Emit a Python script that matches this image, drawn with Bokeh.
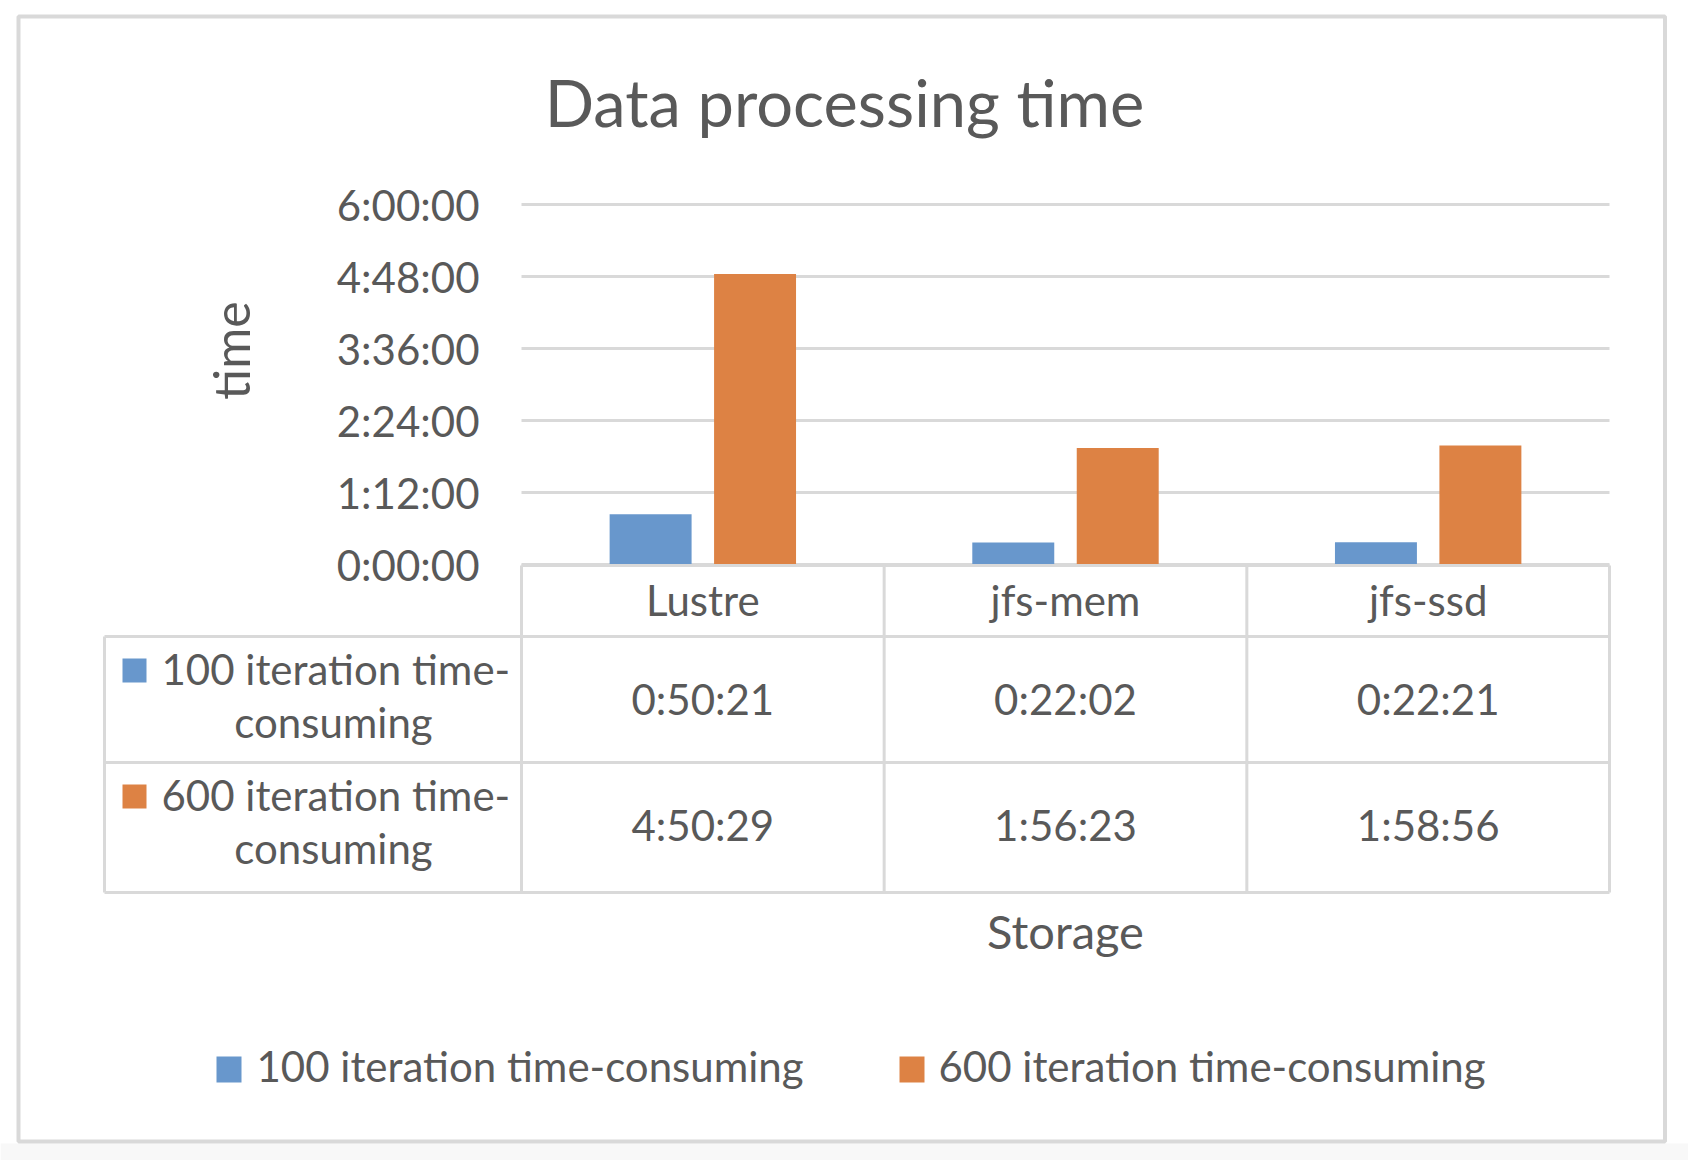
import math
from bokeh.plotting import figure
from bokeh.models import Range1d, FixedTicker, LinearAxis
from bokeh.core.properties import value
from bokeh.embed import file_html
from bokeh.resources import INLINE

# ---------------- data ----------------
storages = ["Lustre", "jfs-mem", "jfs-ssd"]
series_names = ["100 iteration time-consuming", "600 iteration time-consuming"]
time_100 = ["0:50:21", "0:22:02", "0:22:21"]
time_600 = ["4:50:29", "1:56:23", "1:58:56"]
y_tick_labels = ["0:00:00", "1:12:00", "2:24:00", "3:36:00", "4:48:00", "6:00:00"]
colors = ["#6897CC", "#DD8244"]
title_text = "Data processing time"
x_title = "Storage"
y_title = "time"


def to_sec(s):
    h, m, sec = (int(v) for v in s.split(":"))
    return h * 3600 + m * 60 + sec


# ---------------- layout (page pixels) ----------------
W, H = 1688, 1160
OFF = 0
FL, FR, FT, FB = 521, 1609, 204, 564  # bar area in page pixels
YMAX = to_sec(y_tick_labels[-1])
n = len(storages)
FONT = "Lato"
TXT = "#595959"
LINE = "#D9D9D9"
FS = "42px"
SHIFT = 17  # baseline correction for 42px text


def X(px):  # page px -> x data (category slots 0..n)
    return (px - FL) / (FR - FL) * n


def Y(py):  # page px -> seconds
    return (FB - py) / (FB - FT) * YMAX


p = figure(
    x_range=Range1d(X(OFF), X(OFF + W)),
    y_range=Range1d(Y(OFF + H), Y(OFF)),
    width=W, height=H,
    min_border=0, min_border_left=0, min_border_right=0, min_border_top=0, min_border_bottom=0,
    x_axis_location=None, y_axis_location=None,
    output_backend="svg", toolbar_location=None,
    background_fill_color="white", border_fill_color="white",
    outline_line_color=None,
)
p.xgrid.visible = False
p.ygrid.visible = False

ticks = [to_sec(t) for t in y_tick_labels]

# faint page strip below the chart
p.quad(left=[X(OFF)], right=[X(OFF + W)], top=[Y(1143)], bottom=[Y(OFF + H)],
       fill_color="#F8F8F8", line_color=None)

# outer chart border
p.quad(left=[X(18)], right=[X(1664.5)], top=[Y(16)], bottom=[Y(1141)],
       fill_color=None, line_color=LINE, line_width=4)

# horizontal gridlines across the category slots
p.segment(x0=[0] * len(ticks), x1=[n] * len(ticks), y0=ticks, y1=ticks,
          line_color=LINE, line_width=3)

# bars
BW = 0.226
OFFS = 0.144
vals100 = [to_sec(t) for t in time_100]
vals600 = [to_sec(t) for t in time_600]
p.vbar(x=[i + 0.5 - OFFS for i in range(n)], top=vals100, bottom=0, width=BW,
       fill_color=colors[0], line_color=None)
p.vbar(x=[i + 0.5 + OFFS for i in range(n)], top=vals600, bottom=0, width=BW,
       fill_color=colors[1], line_color=None)

# y axis (fixed at the left edge of the bar area)
yax = LinearAxis(fixed_location=0, ticker=FixedTicker(ticks=ticks))
yax.major_label_overrides = {t: lab for t, lab in zip(ticks, y_tick_labels)}
yax.axis_line_color = None
yax.major_tick_line_color = None
yax.minor_tick_line_color = None
yax.major_tick_out = 0
yax.major_tick_in = 0
yax.major_label_standoff = 42
yax.major_label_text_font = FONT
yax.major_label_text_font_size = FS
yax.major_label_text_color = TXT
p.add_layout(yax, "left")

# x axis: category names form the header row of the data table
cat_ticks = [i + 0.5 for i in range(n)]
xax = LinearAxis(fixed_location=0, ticker=FixedTicker(ticks=cat_ticks), bounds=(0, n))
xax.major_label_overrides = {t: s for t, s in zip(cat_ticks, storages)}
xax.axis_line_color = None
xax.major_tick_line_color = None
xax.minor_tick_line_color = None
xax.major_tick_out = 0
xax.major_tick_in = 0
xax.major_label_standoff = 10
xax.major_label_text_font = FONT
xax.major_label_text_font_size = FS
xax.major_label_text_color = TXT
xax.axis_label = x_title
xax.axis_label_standoff = 275
xax.axis_label_text_font = FONT
xax.axis_label_text_font_size = "47px"
xax.axis_label_text_font_style = "normal"
xax.axis_label_text_color = TXT
p.add_layout(xax, "below")


def text(xs, ys, texts, align="left", size=FS, angle=0.0):
    p.text(x=xs, y=ys, text=texts, text_align=align, text_baseline="alphabetic",
           text_font=value(FONT), text_font_size=value(size), text_color=TXT, angle=angle)


# data table grid
row_tops = [565, 636, 762, 892]
# horizontal rules
p.segment(x0=[0, X(104), X(104), X(104)], x1=[n] * 4,
          y0=[Y(v) for v in row_tops], y1=[Y(v) for v in row_tops],
          line_color=LINE, line_width=3)
# vertical rules
p.segment(x0=[X(104)] + list(range(n + 1)), x1=[X(104)] + list(range(n + 1)),
          y0=[Y(row_tops[1])] + [Y(row_tops[0])] * (n + 1),
          y1=[Y(row_tops[-1])] * (n + 2),
          line_color=LINE, line_width=3)

# table row headers and values
rows = [time_100, time_600]
for r, (name, vals) in enumerate(zip(series_names, rows)):
    dy = row_tops[r + 1] - row_tops[1]
    p.quad(left=[X(122)], right=[X(146)], top=[Y(658 + dy)], bottom=[Y(682 + dy)],
           fill_color=colors[r], line_color=None)
    head, tail = name.split("time-")
    text([X(161)], [Y(685 + dy - SHIFT)], [head + "time-"])
    text([X(333)], [Y(738 + dy - SHIFT)], [tail], align="center")
    base = [715, 841][r]
    text([i + 0.5 for i in range(n)], [Y(base - SHIFT)] * n, vals, align="center")

# title and y title
text([X(844)], [Y(123 - 22)], [title_text], align="center", size="65px")
text([X(230)], [Y(350)], [y_title], align="center", size="50px", angle=math.pi / 2)

# bottom legend
leg_x = [(216, 241, 256), (899, 924, 938)]
for (sl, sr, tx), name, c in zip(leg_x, series_names, colors):
    p.quad(left=[X(sl)], right=[X(sr)], top=[Y(1056)], bottom=[Y(1082)],
           fill_color=c, line_color=None)
    text([X(tx)], [Y(1082 - SHIFT)], [name])

open("out.html", "w").write(file_html(p, INLINE))
